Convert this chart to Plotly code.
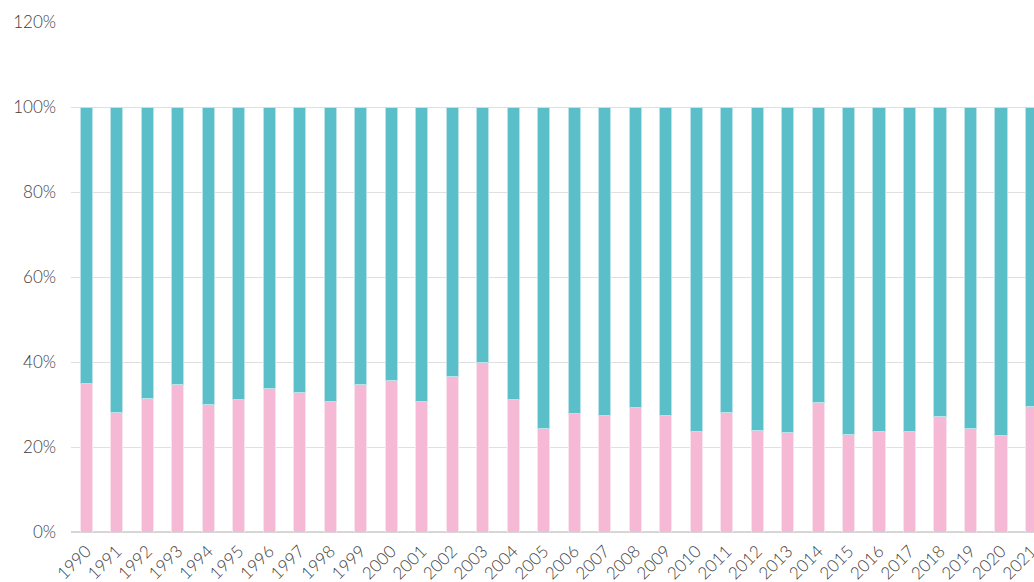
import plotly.graph_objects as go

years = [str(y) for y in range(1990, 2022)]
pink_share = [34.9, 28.2, 31.3, 34.6, 30.0, 31.1, 33.8, 32.8, 30.7, 34.6,
              35.6, 30.7, 36.7, 39.8, 31.1, 24.3, 27.8, 27.5, 29.3, 27.5,
              23.6, 28.2, 24.0, 23.3, 30.4, 22.9, 23.6, 23.6, 27.1, 24.3,
              22.6, 29.6]
teal_share = [round(100 - v, 1) for v in pink_share]
y_ticks = [0, 20, 40, 60, 80, 100, 120]
y_labels = [f"{v}%" for v in y_ticks]

fig = go.Figure()
fig.add_trace(go.Bar(x=years, y=pink_share, marker=dict(color="#f6b9d5", line=dict(color="#fbe3ee", width=1)),
                     name="A", hoverinfo="x+y"))
fig.add_trace(go.Bar(x=years, y=teal_share, marker=dict(color="#5bbfc9", line=dict(color="#b9e3e8", width=1)),
                     name="B", hoverinfo="x+y"))

fig.update_layout(
    barmode="stack",
    bargap=0.6,
    width=1034, height=582,
    margin=dict(l=71, r=0, t=22, b=50, autoexpand=False),
    paper_bgcolor="white", plot_bgcolor="white",
    showlegend=False,
    font=dict(family="Lato, Open Sans, sans-serif", color="#3d3d3d", weight=300),
)
fig.update_xaxes(type="category", range=[-0.5, 31.08], tickangle=-45,
                 tickfont=dict(size=17, color="#3d3d3d", weight=300), showgrid=False,
                 showline=False, ticks="", automargin=False, ticklabelstandoff=5)
fig.update_yaxes(range=[0, 120], tickmode="array", tickvals=y_ticks, ticktext=y_labels,
                 tickfont=dict(size=17, color="#3d3d3d", weight=300),
                 showgrid=True, gridcolor="#e0e0e0", gridwidth=1,
                 zeroline=True, zerolinecolor="#d6d6d6", zerolinewidth=1.5,
                 automargin=False, ticklabelstandoff=14)

fig.write_html("out.html", config={"displayModeBar": False},
               post_script="document.body.style.margin='0';document.body.style.overflow='hidden';")
